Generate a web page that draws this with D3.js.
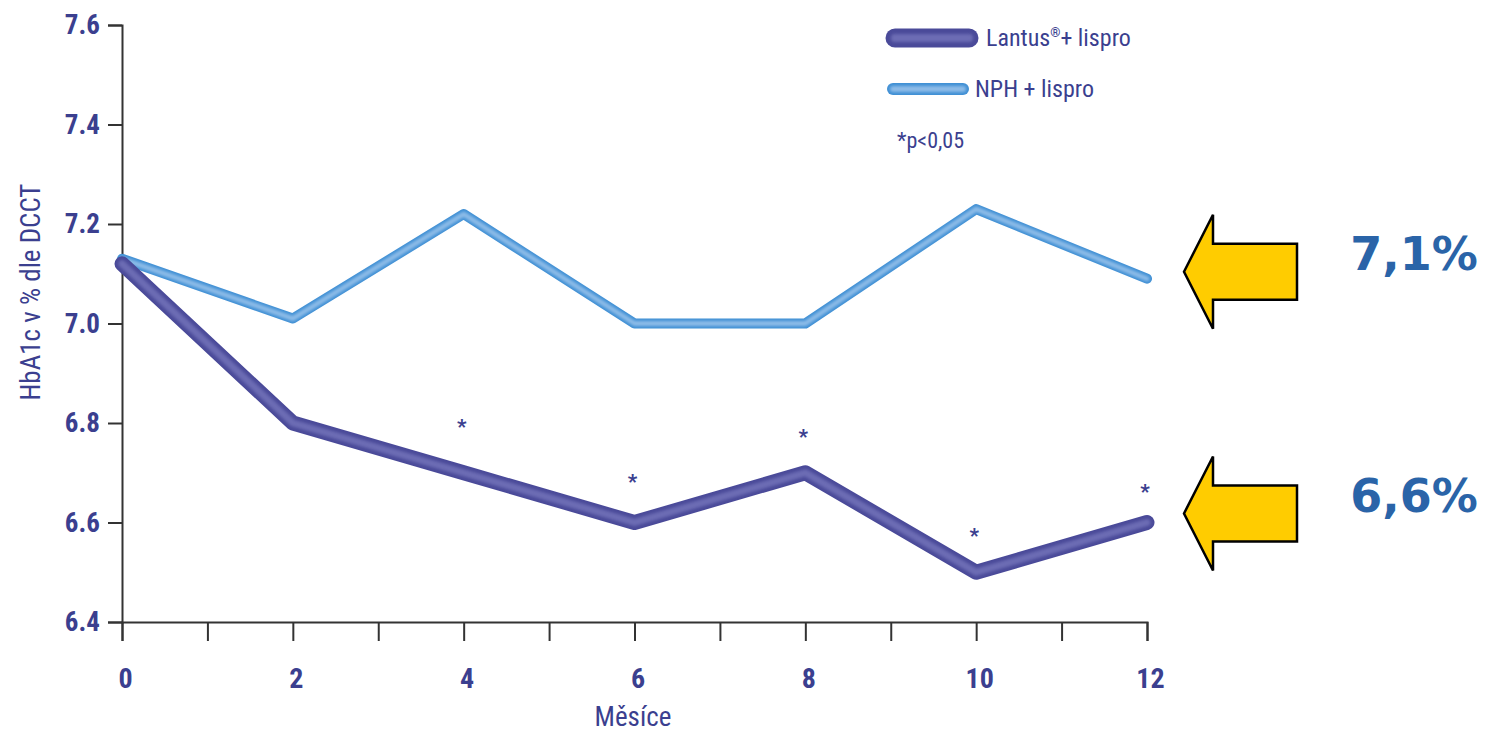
<!DOCTYPE html>
<html>
<head>
<meta charset="utf-8">
<script src="https://cdn.jsdelivr.net/npm/d3@7"></script>
<style>
  html, body { margin: 0; padding: 0; background: #fff; }
  svg { display: block; }
  .cond { font-family: "Liberation Sans Narrow", "Roboto Condensed", "Arial Narrow", "Liberation Sans", sans-serif; }
</style>
</head>
<body>
<svg id="chart" width="1494" height="734"></svg>
<script>
// Months of follow-up
const months = [0, 2, 4, 6, 8, 10, 12];
// HbA1c (% DCCT) per treatment arm
const lantusValues = [7.12, 6.80, 6.70, 6.60, 6.70, 6.50, 6.60];
const nphValues    = [7.13, 7.01, 7.22, 7.00, 7.00, 7.23, 7.09];
// Significance markers (month, HbA1c level of the asterisk)
const starMonths = [4, 6, 8, 10, 12];
const starValues = [6.80, 6.69, 6.78, 6.58, 6.67];
// Axis ticks
const yTicks = [6.4, 6.6, 6.8, 7.0, 7.2, 7.4, 7.6];
const xTicks = [0, 1, 2, 3, 4, 5, 6, 7, 8, 9, 10, 11, 12];
const xTickLabels = [0, 2, 4, 6, 8, 10, 12];
// Final values called out on the right
const callouts = ["7,1%", "6,6%"];
const calloutValues = [7.1, 6.6];

const navy = "#3b3f8f";
const svg = d3.select("#chart");

// Soft glow used for the light core of the series lines
const defs = svg.append("defs");
defs.append("filter").attr("id", "soft")
  .attr("filterUnits", "userSpaceOnUse")
  .attr("x", 0).attr("y", 0).attr("width", 1494).attr("height", 734)
  .append("feGaussianBlur").attr("stdDeviation", 1.6);

const x = d3.scaleLinear().domain([0, 12]).range([122, 1147]);
const y = d3.scaleLinear().domain([6.4, 7.6]).range([622, 25]);

// Y axis
const yAxis = svg.append("g")
  .attr("transform", `translate(${x(0)},0)`)
  .call(d3.axisLeft(y).tickValues(yTicks).tickSize(14).tickPadding(8).tickFormat(d3.format(".1f")));
yAxis.select(".domain").attr("stroke", "#333").attr("stroke-width", 2);
yAxis.selectAll(".tick line").attr("stroke", "#333").attr("stroke-width", 2);
yAxis.selectAll(".tick text")
  .attr("class", "cond").attr("fill", navy)
  .style("font-size", "27px").style("font-weight", "bold");

// X axis
const xAxis = svg.append("g")
  .attr("transform", `translate(0,${y(6.4)})`)
  .call(d3.axisBottom(x).tickValues(xTicks).tickSize(19).tickPadding(27)
    .tickFormat(d => xTickLabels.includes(d) ? d : ""));
xAxis.select(".domain").attr("stroke", "#333").attr("stroke-width", 2);
xAxis.selectAll(".tick line").attr("stroke", "#333").attr("stroke-width", 2);
xAxis.selectAll(".tick text")
  .attr("class", "cond").attr("fill", navy)
  .attr("dx", 3)
  .style("font-size", "28px").style("font-weight", "bold");

// Axis titles
svg.append("text").attr("class", "cond")
  .attr("x", 633).attr("y", 726).attr("text-anchor", "middle")
  .attr("fill", navy).style("font-size", "27px")
  .text("Měsíce");
svg.append("text").attr("class", "cond")
  .attr("transform", "translate(40,292) rotate(-90)").attr("text-anchor", "middle")
  .attr("fill", navy).style("font-size", "27px")
  .text("HbA1c v % dle DCCT");

const line = d3.line().x((d, i) => x(months[i])).y(d => y(d));

// NPH + lispro (light blue, outlined)
svg.append("path").datum(nphValues).attr("d", line)
  .attr("fill", "none").attr("stroke", "#3f8fd4").attr("stroke-width", 10)
  .attr("stroke-linejoin", "round").attr("stroke-linecap", "round");
svg.append("path").datum(nphValues).attr("d", line)
  .attr("fill", "none").attr("stroke", "#8dbce8").attr("stroke-width", 5)
  .attr("filter", "url(#soft)")
  .attr("stroke-linejoin", "round").attr("stroke-linecap", "round");

// Lantus + lispro (thick navy)
svg.append("path").datum(lantusValues).attr("d", line)
  .attr("fill", "none").attr("stroke", "#4a4a99").attr("stroke-width", 15)
  .attr("stroke-linejoin", "round").attr("stroke-linecap", "round");
svg.append("path").datum(lantusValues).attr("d", line)
  .attr("fill", "none").attr("stroke", "#6c6cb4").attr("stroke-width", 7)
  .attr("filter", "url(#soft)")
  .attr("stroke-linejoin", "round").attr("stroke-linecap", "round");

// Significance asterisks
svg.selectAll("text.star").data(starMonths).enter().append("text")
  .attr("class", "star cond")
  .attr("x", (d) => x(d) - 2).attr("y", (d, i) => y(starValues[i]) + 11)
  .attr("text-anchor", "middle").attr("fill", navy)
  .style("font-size", "21px").style("font-weight", "bold")
  .text("*");

// Legend
const legend = svg.append("g");
legend.append("line").attr("x1", 895).attr("x2", 969).attr("y1", 38).attr("y2", 38)
  .attr("stroke", "#4a4a99").attr("stroke-width", 19).attr("stroke-linecap", "round");
legend.append("line").attr("x1", 895).attr("x2", 969).attr("y1", 38).attr("y2", 38)
  .attr("stroke", "#6c6cb4").attr("stroke-width", 8).attr("stroke-linecap", "round")
  .attr("filter", "url(#soft)");
legend.append("line").attr("x1", 893).attr("x2", 963).attr("y1", 89).attr("y2", 89)
  .attr("stroke", "#3f8fd4").attr("stroke-width", 12).attr("stroke-linecap", "round");
legend.append("line").attr("x1", 893).attr("x2", 963).attr("y1", 89).attr("y2", 89)
  .attr("stroke", "#8dbce8").attr("stroke-width", 6).attr("stroke-linecap", "round")
  .attr("filter", "url(#soft)");

const t1 = legend.append("text").attr("class", "cond")
  .attr("x", 986).attr("y", 46).attr("fill", navy).style("font-size", "24px");
t1.append("tspan").text("Lantus");
t1.append("tspan").attr("dy", -9).style("font-size", "13px").style("font-weight", "bold").text("®");
t1.append("tspan").attr("dy", 9).text("+ lispro");
legend.append("text").attr("class", "cond")
  .attr("x", 975).attr("y", 97).attr("fill", navy).style("font-size", "24px")
  .text("NPH + lispro");
legend.append("text").attr("class", "cond")
  .attr("x", 897).attr("y", 148).attr("fill", navy).style("font-size", "22px")
  .text("*p<0,05");

// Callout arrows pointing back at the chart with the final values
const arrow = (cy) => {
  const tip = 1184, neck = 1213, tail = 1297;
  return `M${tip},${cy} L${neck},${cy - 57} L${neck},${cy - 28} L${tail},${cy - 28} L${tail},${cy + 28} L${neck},${cy + 28} L${neck},${cy + 57} Z`;
};
const arrowOffsets = [-2, -9];
calloutValues.forEach((v, i) => {
  const cy = y(v) + arrowOffsets[i];
  svg.append("path").attr("d", arrow(cy))
    .attr("fill", "#ffcc00").attr("stroke", "#000").attr("stroke-width", 2.5)
    .attr("stroke-linejoin", "miter");
  svg.append("text")
    .attr("x", 1414).attr("y", cy - 2).attr("text-anchor", "middle")
    .attr("fill", "#2a64a8")
    .style("font-family", "'DejaVu Sans', Verdana, sans-serif")
    .style("font-size", "46px").style("font-weight", "bold")
    .text(callouts[i]);
});
</script>
</body>
</html>
